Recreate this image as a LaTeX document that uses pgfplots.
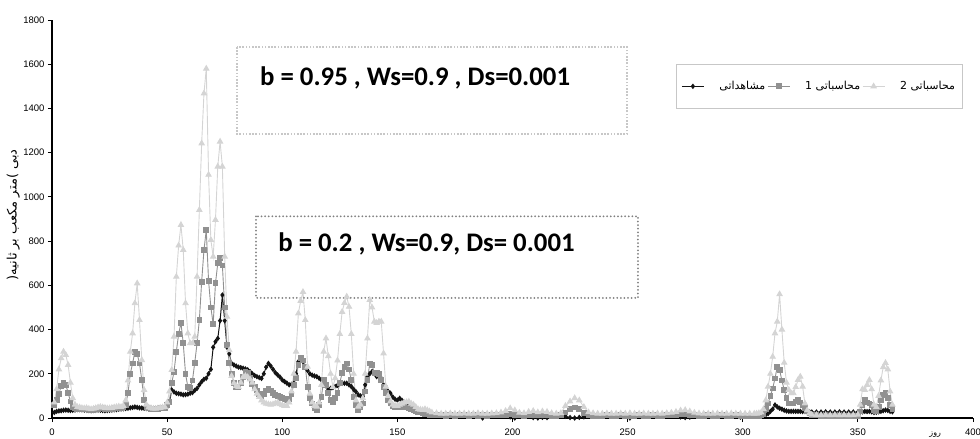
\documentclass[border=0pt]{standalone}
\usepackage{fontspec}
\setmainfont{Liberation Sans}
\newfontfamily\fa[Script=Arabic]{DejaVu Sans}
\newfontfamily\calfont{Carlito}
\usepackage{pgfplots}
\usepackage{pgfplotstable}
\pgfplotsset{compat=1.18}
\TeXXeTstate=1

\definecolor{obs}{RGB}{20,20,20}
\definecolor{cone}{RGB}{145,145,145}
\definecolor{ctwo}{RGB}{212,212,212}

% d = day, o = observed, a = computed 1, b = computed 2
\pgfplotstableread{
d o a b
1 25 60 70
2 30 80 130
3 32 110 220
4 33 145 270
5 35 157 300
6 36 149 285
7 35 115 240
8 34 75 160
9 35 50 90
10 36 45 60
11 38 42 50
12 38 40 48
13 37 40 45
14 36 42 44
15 35 40 45
16 34 38 42
17 33 36 40
18 34 38 42
19 35 40 45
20 36 42 48
21 35 45 50
22 34 44 48
23 33 42 46
24 34 40 44
25 35 40 44
26 36 42 46
27 37 44 48
28 38 45 50
29 40 46 52
30 41 45 50
31 42 48 55
32 43 60 80
33 44 112 170
34 46 200 300
35 48 247 383
36 50 300 519
37 48 290 609
38 46 247 443
39 45 172 262
40 44 81 127
41 43 50 60
42 42 45 48
43 42 42 45
44 43 40 42
45 44 40 42
46 45 42 44
47 46 44 46
48 47 45 48
49 48 46 50
50 50 60 70
51 70 74 120
52 127 157 217
53 118 210 368
54 112 300 639
55 110 380 780
56 108 430 873
57 105 338 760
58 106 200 519
59 108 140 383
60 112 135 338
61 115 170 338
62 125 250 368
63 134 338 639
64 150 443 941
65 164 617 1242
66 175 760 1468
67 180 850 1580
68 200 620 1100
69 220 500 805
70 320 425 730
71 345 609 896
72 360 700 1137
73 440 725 1250
74 556 690 1137
75 440 500 730
76 320 330 458
77 290 250 307
78 247 200 190
79 240 160 157
80 235 142 145
81 230 140 140
82 228 160 160
83 225 185 185
84 222 210 190
85 218 205 185
86 210 180 175
87 200 155 160
88 192 140 130
89 187 125 110
90 183 110 95
91 179 100 80
92 200 110 70
93 230 125 65
94 247 130 62
95 235 125 60
96 220 115 62
97 205 105 66
98 195 100 70
99 185 95 62
100 172 90 58
101 165 85 55
102 158 80 55
103 150 85 70
104 152 110 120
105 157 150 200
106 200 180 300
107 255 240 473
108 260 270 530
109 255 260 570
110 232 232 443
111 215 142 232
112 200 90 110
113 194 66 70
114 190 45 55
115 187 36 51
116 180 60 70
117 172 96 150
118 160 172 300
119 145 150 360
120 127 112 280
121 134 80 200
122 138 70 140
123 142 90 180
124 148 112 260
125 155 160 380
126 157 202 480
127 157 230 520
128 157 247 549
129 150 220 503
130 142 172 380
131 130 96 200
132 119 60 80
133 105 36 51
134 100 50 60
135 96 66 90
136 150 120 200
137 187 172 360
138 200 247 534
139 210 240 500
140 200 202 436
141 187 202 430
142 187 200 436
143 180 172 436
144 150 140 292
145 142 112 142
146 120 80 100
147 112 66 75
148 95 55 60
149 85 50 55
150 81 48 55
151 89 50 60
152 80 52 65
153 70 50 70
154 62 48 72
155 55 45 74
156 48 40 65
157 42 35 60
158 35 32 50
159 30 28 40
160 25 25 38
161 22 22 36
162 20 20 40
163 18 16 35
164 16 14 30
165 15 12 25
167 16 12 22
169 18 12 20
171 17 11 20
173 18 12 21
175 17 11 20
177 18 12 20
179 17 12 21
181 18 11 20
183 17 12 20
185 10 11 22
187 0 12 20
189 15 11 20
191 17 12 21
193 18 12 22
195 17 13 25
197 15 15 32
199 5 18 44
201 0 14 35
203 15 12 24
205 17 11 22
207 14 13 28
209 2 15 32
211 0 12 26
213 3 14 30
215 2 12 28
217 14 11 22
219 17 11 20
221 16 12 22
223 8 25 55
225 2 40 75
227 0 48 90
229 3 40 80
231 5 22 50
233 14 12 26
235 16 11 22
237 17 11 20
239 18 11 20
241 17 12 21
243 18 11 20
245 17 11 20
247 16 12 21
249 10 11 20
251 0 11 22
253 12 11 20
255 17 12 20
257 18 11 21
259 17 11 20
261 18 12 20
263 17 11 21
265 18 11 20
267 17 12 22
269 16 12 24
271 12 14 28
273 5 16 34
275 2 17 36
277 4 14 30
279 14 12 24
281 16 11 21
283 17 11 20
285 18 12 20
287 18 11 20
289 17 11 21
291 18 12 20
293 17 11 20
295 16 11 21
297 8 12 20
299 4 11 20
301 14 11 20
303 15 10 20
305 15 10 20
306 14 10 20
307 14 10 22
308 13 12 25
309 12 20 40
310 15 40 80
311 20 66 142
312 30 100 200
313 40 134 277
314 59 179 383
315 50 232 436
316 44 217 560
317 40 170 400
318 35 127 250
319 32 90 160
320 30 66 127
321 30 66 112
322 30 66 112
323 30 75 140
324 30 81 172
325 30 70 187
326 29 60 142
327 29 44 66
328 28 30 35
329 28 21 21
330 27 15 15
332 27 12 14
334 27 11 13
336 28 10 14
338 27 11 13
340 27 10 14
342 28 11 13
344 27 10 14
346 27 11 13
348 27 10 14
350 27 10 15
351 25 30 60
352 28 60 130
353 30 81 127
354 29 70 150
355 30 66 172
356 28 60 130
357 25 35 60
358 26 30 50
359 28 50 100
360 30 80 170
361 33 105 230
362 36 112 249
363 34 90 220
364 30 60 120
365 28 40 60
}\flow

\begin{document}
\begin{tikzpicture}
\useasboundingbox (-52pt,-21pt) rectangle (928pt,418pt);
\begin{axis}[
  at={(0pt,0pt)}, anchor=south west,
  scale only axis, width=921pt, height=398pt,
  xmin=0, xmax=400, ymin=0, ymax=1800,
  xtick={0,50,...,400}, ytick={0,200,...,1800},
  axis x line=bottom, axis y line=left,
  axis line style={-, line width=1.3pt, black},
  tick align=outside, major tick length=4pt,
  tick style={black, line width=0.8pt},
  /pgf/number format/assume math mode=true,
  /pgf/number format/set thousands separator={},
  tick label style={font=\fontsize{9.5}{10}\selectfont},
  xticklabel style={yshift=-3pt},
  ylabel={\fa\beginR دبی )\kern0pt متر مکعب بر ثانیه\kern0pt(\endR},
  ylabel style={at={(axis description cs:-0.042,0.51)}, anchor=center,
    font=\fontsize{13}{14}\selectfont},
  xlabel={\fa روز},
  xlabel style={at={(axis description cs:0.959,-0.043)}, anchor=center,
    font=\fontsize{8}{9}\selectfont},
  legend style={at={(0.6775,0.8894)}, anchor=north west,
    draw=black!22, line width=0.8pt, inner xsep=5pt, inner ysep=15pt,
    legend columns=3, font=\fontsize{11}{12}\selectfont,
    /tikz/every odd column/.append style={column sep=13pt}},
  legend image code/.code={%
    \draw[mark repeat=2, mark phase=2, #1]
      plot coordinates {(0pt,0pt) (11pt,0pt) (22pt,0pt)};},
]
\addplot[obs, line width=1pt, mark=diamond*, mark size=2pt,
  mark options={fill=obs, draw=obs}] table[x=d, y=o] {\flow};
\addlegendentry{\fa\beginR مشاهداتی\endR}
\addplot[cone, line width=0.9pt, mark=square*, mark size=2.4pt,
  mark options={fill=cone, draw=cone}] table[x=d, y=a] {\flow};
\addlegendentry{\fa\beginR محاسباتی 1\endR}
\addplot[ctwo, line width=0.9pt, mark=triangle*, mark size=3pt,
  mark options={fill=ctwo, draw=ctwo}] table[x=d, y=b] {\flow};
\addlegendentry{\fa\beginR محاسباتی 2\endR}

\draw[black!22, line width=1.6pt, dash pattern=on 1.6pt off 1.6pt]
  (axis cs:80.3,1678) rectangle (axis cs:249.7,1284);
\node[anchor=base west, inner sep=0pt, font=\calfont\bfseries\fontsize{26.8}{30}\selectfont]
  at (axis cs:90.3,1506) {b = 0.95 , Ws=0.9 , Ds=0.001};
\draw[black!50, line width=2pt, line cap=round, dash pattern=on 0pt off 3.6pt]
  (axis cs:88.6,912) rectangle (axis cs:254.5,543);
\node[anchor=base west, inner sep=0pt, font=\calfont\bfseries\fontsize{26.8}{30}\selectfont]
  at (axis cs:98.2,751) {b = 0.2 , Ws=0.9, Ds= 0.001};
\end{axis}
\end{tikzpicture}
\end{document}
